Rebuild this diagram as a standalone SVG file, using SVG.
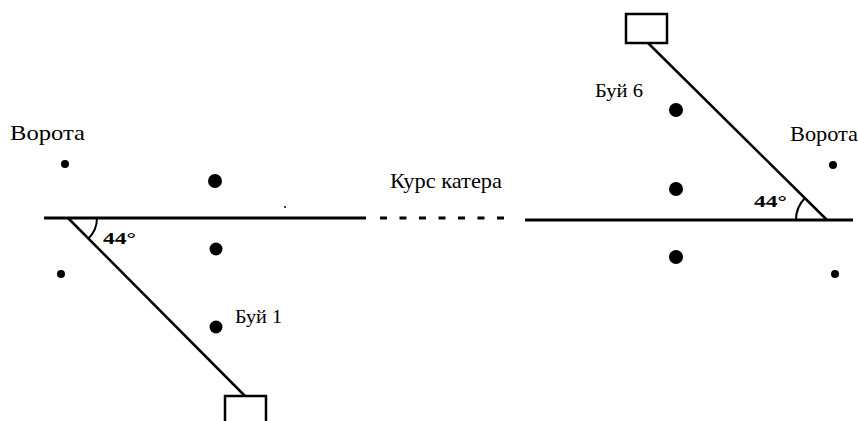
<svg xmlns="http://www.w3.org/2000/svg" width="858" height="421" viewBox="0 0 858 421">
<style>
.ln{stroke:#000;stroke-width:3;fill:none}
.dg{stroke:#000;stroke-width:2.5;fill:none}
.arc{stroke:#000;stroke-width:2;fill:none}
.box{stroke:#000;stroke-width:2.5;fill:#fff}
.t{font-family:"Liberation Serif",serif;fill:#000}
.a{font-family:"Liberation Serif",serif;font-weight:bold;font-size:17px;fill:#000}
</style>
<rect width="858" height="421" fill="#fff"/>
<g id="connectors">
<line class="ln" x1="44" y1="218" x2="366" y2="218"/>
<line class="ln" x1="380" y1="218" x2="510" y2="218" stroke-dasharray="7,12.5"/>
<line class="ln" x1="525" y1="220" x2="853" y2="220"/>
<line class="dg" x1="68" y1="218" x2="245" y2="396"/>
<line class="dg" x1="648" y1="43" x2="827" y2="220"/>
<path class="arc" d="M97 218 A29 29 0 0 1 88 239"/>
<path class="arc" d="M796 220 A31 31 0 0 1 805 198"/>
</g>
<g id="box-bottom"><path class="box" d="M225 421 V396 H266 V421"/></g>
<g id="box-top"><rect class="box" x="626" y="14" width="41" height="29"/></g>
<g id="buoys">
<circle cx="65" cy="164" r="4"/>
<circle cx="61" cy="274" r="4"/>
<circle cx="215" cy="181" r="7"/>
<circle cx="216" cy="249" r="6.5"/>
<circle cx="216" cy="327" r="6.5"/>
<circle cx="676" cy="110" r="7"/>
<circle cx="676" cy="189" r="7"/>
<circle cx="676" cy="257" r="7"/>
<circle cx="833" cy="165" r="4"/>
<circle cx="835" cy="274" r="4"/>
<circle cx="285" cy="207" r="1"/>
</g>
<g id="labels">
<text class="t" x="10" y="140" font-size="22" textLength="75" lengthAdjust="spacingAndGlyphs">Ворота</text>
<text class="t" x="790" y="141" font-size="22" textLength="68" lengthAdjust="spacingAndGlyphs">Ворота</text>
<text class="t" x="595" y="97" font-size="18" textLength="48" lengthAdjust="spacingAndGlyphs">Буй 6</text>
<text class="t" x="235" y="323" font-size="18" textLength="47" lengthAdjust="spacingAndGlyphs">Буй 1</text>
<text class="t" x="390" y="188" font-size="21" textLength="112" lengthAdjust="spacingAndGlyphs">Курс катера</text>
<text class="a" x="103" y="244" textLength="33" lengthAdjust="spacingAndGlyphs">44°</text>
<text class="a" x="754" y="207" textLength="33" lengthAdjust="spacingAndGlyphs">44°</text>
</g>
</svg>
